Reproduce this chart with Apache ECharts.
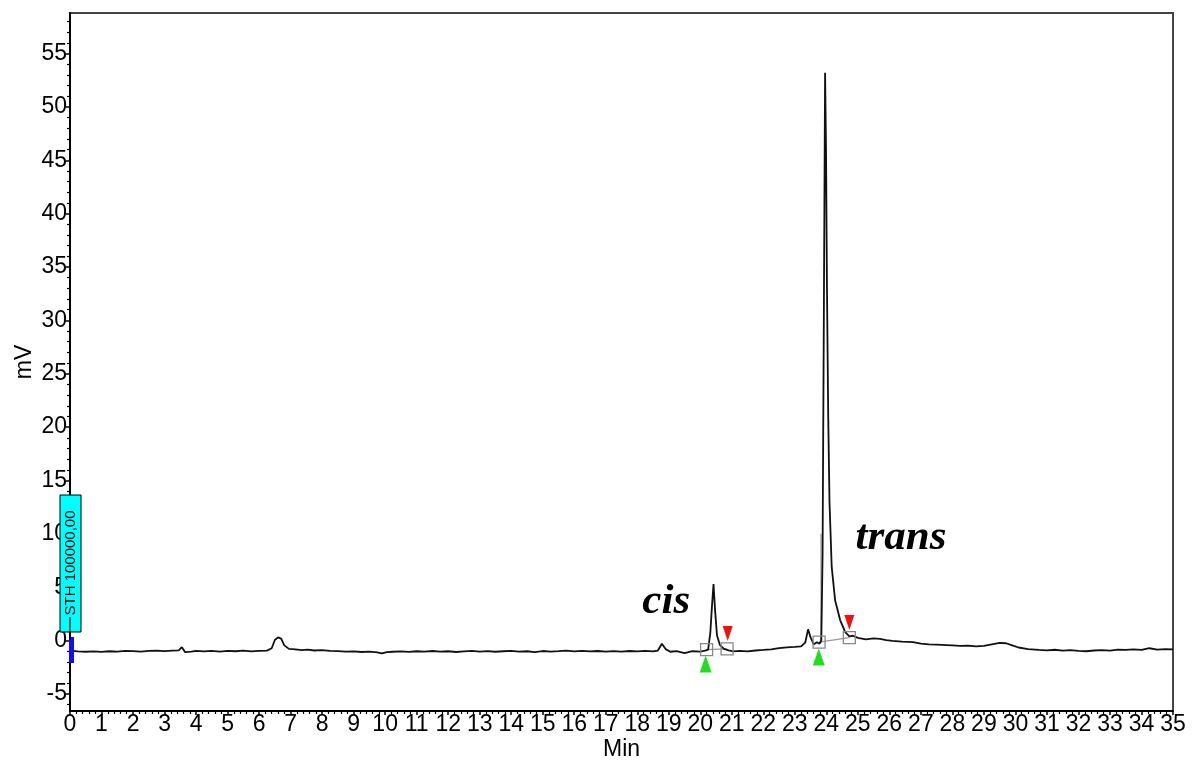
<!DOCTYPE html>
<html>
<head>
<meta charset="utf-8">
<script src="https://cdn.jsdelivr.net/npm/echarts@6/dist/echarts.min.js"></script>
<style>html,body{margin:0;padding:0;background:#fff}#c{width:1192px;height:762px}</style>
</head>
<body>
<div id="c"></div>
<script>
// retention time (min)
const times = [0.00,0.25,0.50,0.75,1.00,1.25,1.50,1.75,2.00,2.25,2.50,2.75,3.00,3.25,3.45,3.55,3.65,3.85,4.00,4.25,4.50,4.75,5.00,5.25,5.50,5.75,6.00,6.25,6.40,6.50,6.60,6.70,6.80,6.95,7.15,7.35,7.55,7.75,8.00,8.25,8.50,8.75,9.00,9.25,9.50,9.75,9.90,10.05,10.25,10.50,10.75,11.00,11.25,11.50,11.75,12.00,12.25,12.50,12.75,13.00,13.25,13.50,13.75,14.00,14.25,14.50,14.75,15.00,15.25,15.50,15.75,16.00,16.25,16.50,16.75,17.00,17.25,17.50,17.75,18.00,18.25,18.50,18.65,18.78,18.90,19.05,19.25,19.50,19.75,20.00,20.15,20.25,20.32,20.37,20.42,20.47,20.53,20.62,20.75,20.90,21.05,21.25,21.50,21.75,22.00,22.25,22.50,22.75,23.00,23.20,23.33,23.42,23.50,23.60,23.70,23.78,23.84,23.88,23.92,23.96,23.99,24.02,24.06,24.10,24.17,24.28,24.44,24.60,24.73,24.85,25.00,25.25,25.50,25.70,25.90,26.10,26.40,26.75,27.00,27.25,27.50,27.80,28.00,28.25,28.50,28.75,29.00,29.25,29.50,29.70,29.90,30.10,30.40,30.75,31.00,31.25,31.50,31.75,32.00,32.25,32.50,32.75,33.00,33.25,33.50,33.75,34.00,34.25,34.50,34.75,35.00];
// detector signal (mV)
const signal = [-0.95,-1.02,-1.05,-1.01,-1.06,-1.00,-1.03,-0.96,-0.99,-1.04,-0.96,-0.94,-0.99,-0.95,-0.92,-0.62,-1.08,-1.03,-0.97,-1.01,-0.96,-1.03,-0.97,-1.00,-0.95,-1.01,-0.97,-0.94,-0.72,0.05,0.30,0.18,-0.45,-0.78,-0.83,-0.90,-0.84,-0.93,-0.90,-0.97,-0.99,-1.04,-1.01,-1.07,-1.04,-1.10,-1.20,-1.08,-1.05,-1.01,-1.06,-1.00,-1.03,-0.98,-1.04,-1.00,-1.07,-1.02,-0.97,-1.03,-0.99,-1.05,-1.00,-0.96,-1.04,-1.00,-1.08,-0.98,-1.03,-0.99,-0.94,-1.01,-0.96,-1.02,-0.98,-1.03,-0.99,-1.04,-0.98,-1.01,-0.97,-1.02,-0.95,-0.30,-0.80,-1.05,-0.98,-1.18,-1.00,-1.03,-0.95,-0.85,0.80,3.20,5.30,2.80,0.50,-0.40,-0.78,-0.92,-1.02,-0.96,-1.01,-0.93,-0.88,-0.82,-0.70,-0.64,-0.60,-0.55,-0.20,1.05,0.30,-0.35,-0.15,-0.30,0.00,8.00,30.00,53.20,46.00,33.00,21.00,13.00,6.90,3.75,1.90,0.80,0.40,0.45,0.25,0.12,0.20,0.15,0.05,-0.02,-0.10,-0.15,-0.28,-0.35,-0.38,-0.42,-0.45,-0.50,-0.48,-0.55,-0.50,-0.35,-0.22,-0.25,-0.45,-0.65,-0.80,-0.88,-0.92,-0.86,-0.95,-0.90,-0.96,-1.00,-0.93,-0.90,-0.95,-0.85,-0.88,-0.82,-0.88,-0.72,-0.85,-0.80,-0.82];

const yTickValues = [-5,0,5,10,15,20,25,30,35,40,45,50,55];
const yMinorValues = [-6,-4,-3,-2,-1,1,2,3,4,6,7,8,9,11,12,13,14,16,17,18,19,21,22,23,24,26,27,28,29,31,32,33,34,36,37,38,39,41,42,43,44,46,47,48,49,51,52,53,54,56,57,58];

// integration markers
const peakStartX = [20.20, 23.77];
const peakStartY = [-0.85, -0.15];
const peakEndX = [20.85, 24.73];
const peakEndY = [-0.78, 0.28];
const startTriX = [20.17, 23.76];
const startTriY = [-2.20, -1.55];
const endTriX = [20.87, 24.73];
const endTriY = [0.66, 1.69];
const dropX = [23.83, 23.83];
const dropY = [-0.20, 10.0];

// peak names
const peakNames = ['cis', 'trans'];
const peakNameX = [18.92, 26.37];
const peakNameY = [3.66, 9.66];

const chart = echarts.init(document.getElementById('c'), null, {renderer: 'canvas'});
const zip = (a, b) => a.map((v, i) => [v, b[i]]);
const font = 'Liberation Sans, Arial, sans-serif';

const option = {
  animation: false,
  backgroundColor: '#fff',
  grid: {left: 70, right: 19, top: 13, bottom: 51, outerBoundsMode: 'none', containLabel: false,
         show: true, borderColor: '#444', borderWidth: 2, backgroundColor: 'transparent'},
  xAxis: {
    type: 'value', min: 0, max: 35, interval: 1,
    name: 'Min', nameLocation: 'middle', nameGap: 27, nameMoveOverlap: false,
    nameTextStyle: {fontFamily: font, fontSize: 23, color: '#000'},
    axisLine: {onZero: false, lineStyle: {color: '#000', width: 2}},
    axisTick: {length: 4, lineStyle: {color: '#000', width: 1.5}},
    minorTick: {show: true, splitNumber: 5, length: 3, lineStyle: {color: '#000', width: 1.2}},
    axisLabel: {fontFamily: font, fontSize: 23, color: '#000', margin: 2, interval: 0, showMinLabel: true, showMaxLabel: true},
    splitLine: {show: false}
  },
  yAxis: [{
    type: 'value', min: -6.6, max: 58.8,
    name: 'mV', nameLocation: 'middle', nameGap: 34, nameMoveOverlap: false,
    nameTextStyle: {fontFamily: font, fontSize: 23, color: '#000'},
    axisLine: {onZero: false, lineStyle: {color: '#000', width: 2}},
    axisTick: {length: 4, customValues: yTickValues, lineStyle: {color: '#000', width: 1.5}},
    axisLabel: {fontFamily: font, fontSize: 23, color: '#000', margin: 3, customValues: yTickValues},
    splitLine: {show: false}
  }, {
    type: 'value', min: -6.6, max: 58.8, position: 'left',
    axisLine: {show: false, onZero: false},
    axisTick: {length: 3, customValues: yMinorValues, lineStyle: {color: '#000', width: 1.2}},
    axisLabel: {show: false},
    splitLine: {show: false}
  }],
  series: [
    {type: 'line', data: zip(times, signal), showSymbol: false, symbol: 'none',
     lineStyle: {color: '#111', width: 1.8}, z: 3},
    {type: 'line', data: [[peakStartX[0], peakStartY[0]], [peakEndX[0], peakEndY[0]]], symbol: 'none',
     lineStyle: {color: '#999', width: 1.2}, z: 2},
    {type: 'line', data: [[peakStartX[1], peakStartY[1]], [peakEndX[1], peakEndY[1]]], symbol: 'none',
     lineStyle: {color: '#999', width: 1.2}, z: 2},
    {type: 'line', data: zip(dropX, dropY), symbol: 'none',
     lineStyle: {color: '#999', width: 1.2}, z: 2},
    {type: 'scatter', data: zip(peakStartX, peakStartY).concat(zip(peakEndX, peakEndY)), symbol: 'rect', symbolSize: [12, 12],
     itemStyle: {color: 'rgba(255,255,255,0)', borderColor: '#888', borderWidth: 1.3, opacity: 1}, z: 4},
    {type: 'scatter', data: zip(startTriX, startTriY), symbol: 'triangle', symbolSize: [12, 17],
     itemStyle: {color: '#22dd22', opacity: 1}, z: 5},
    {type: 'scatter', data: zip(endTriX, endTriY), symbol: 'triangle', symbolRotate: 180, symbolSize: [10, 15],
     itemStyle: {color: '#ee1111', opacity: 1}, z: 5},
    {type: 'scatter', data: zip(peakNameX, peakNameY).map((p, i) => ({value: p, name: peakNames[i]})), symbolSize: 0,
     itemStyle: {opacity: 1},
     label: {show: true, position: 'inside', formatter: p => p.name, opacity: 1,
       fontFamily: 'Liberation Serif, Times New Roman, serif', fontStyle: 'italic', fontWeight: 'bold', fontSize: 43, color: '#000'}, z: 6}
  ],
  graphic: [
    {type: 'rect', z: 100, shape: {x: 60, y: 495, width: 21, height: 137},
     style: {fill: '#00ffff', stroke: '#000', lineWidth: 1}},
    {type: 'text', z: 101, x: 71, y: 563, rotation: Math.PI / 2,
     style: {text: 'STH 100000,00', fontFamily: font, fontSize: 15, fill: '#000', align: 'center', verticalAlign: 'middle'}},
    {type: 'line', z: 101, shape: {x1: 70, y1: 617, x2: 70, y2: 640}, style: {stroke: '#000', lineWidth: 1.2}},
    {type: 'rect', z: 100, shape: {x: 69, y: 637, width: 5, height: 26}, style: {fill: '#1010ee'}}
  ]
};
chart.setOption(option);
</script>
</body>
</html>
